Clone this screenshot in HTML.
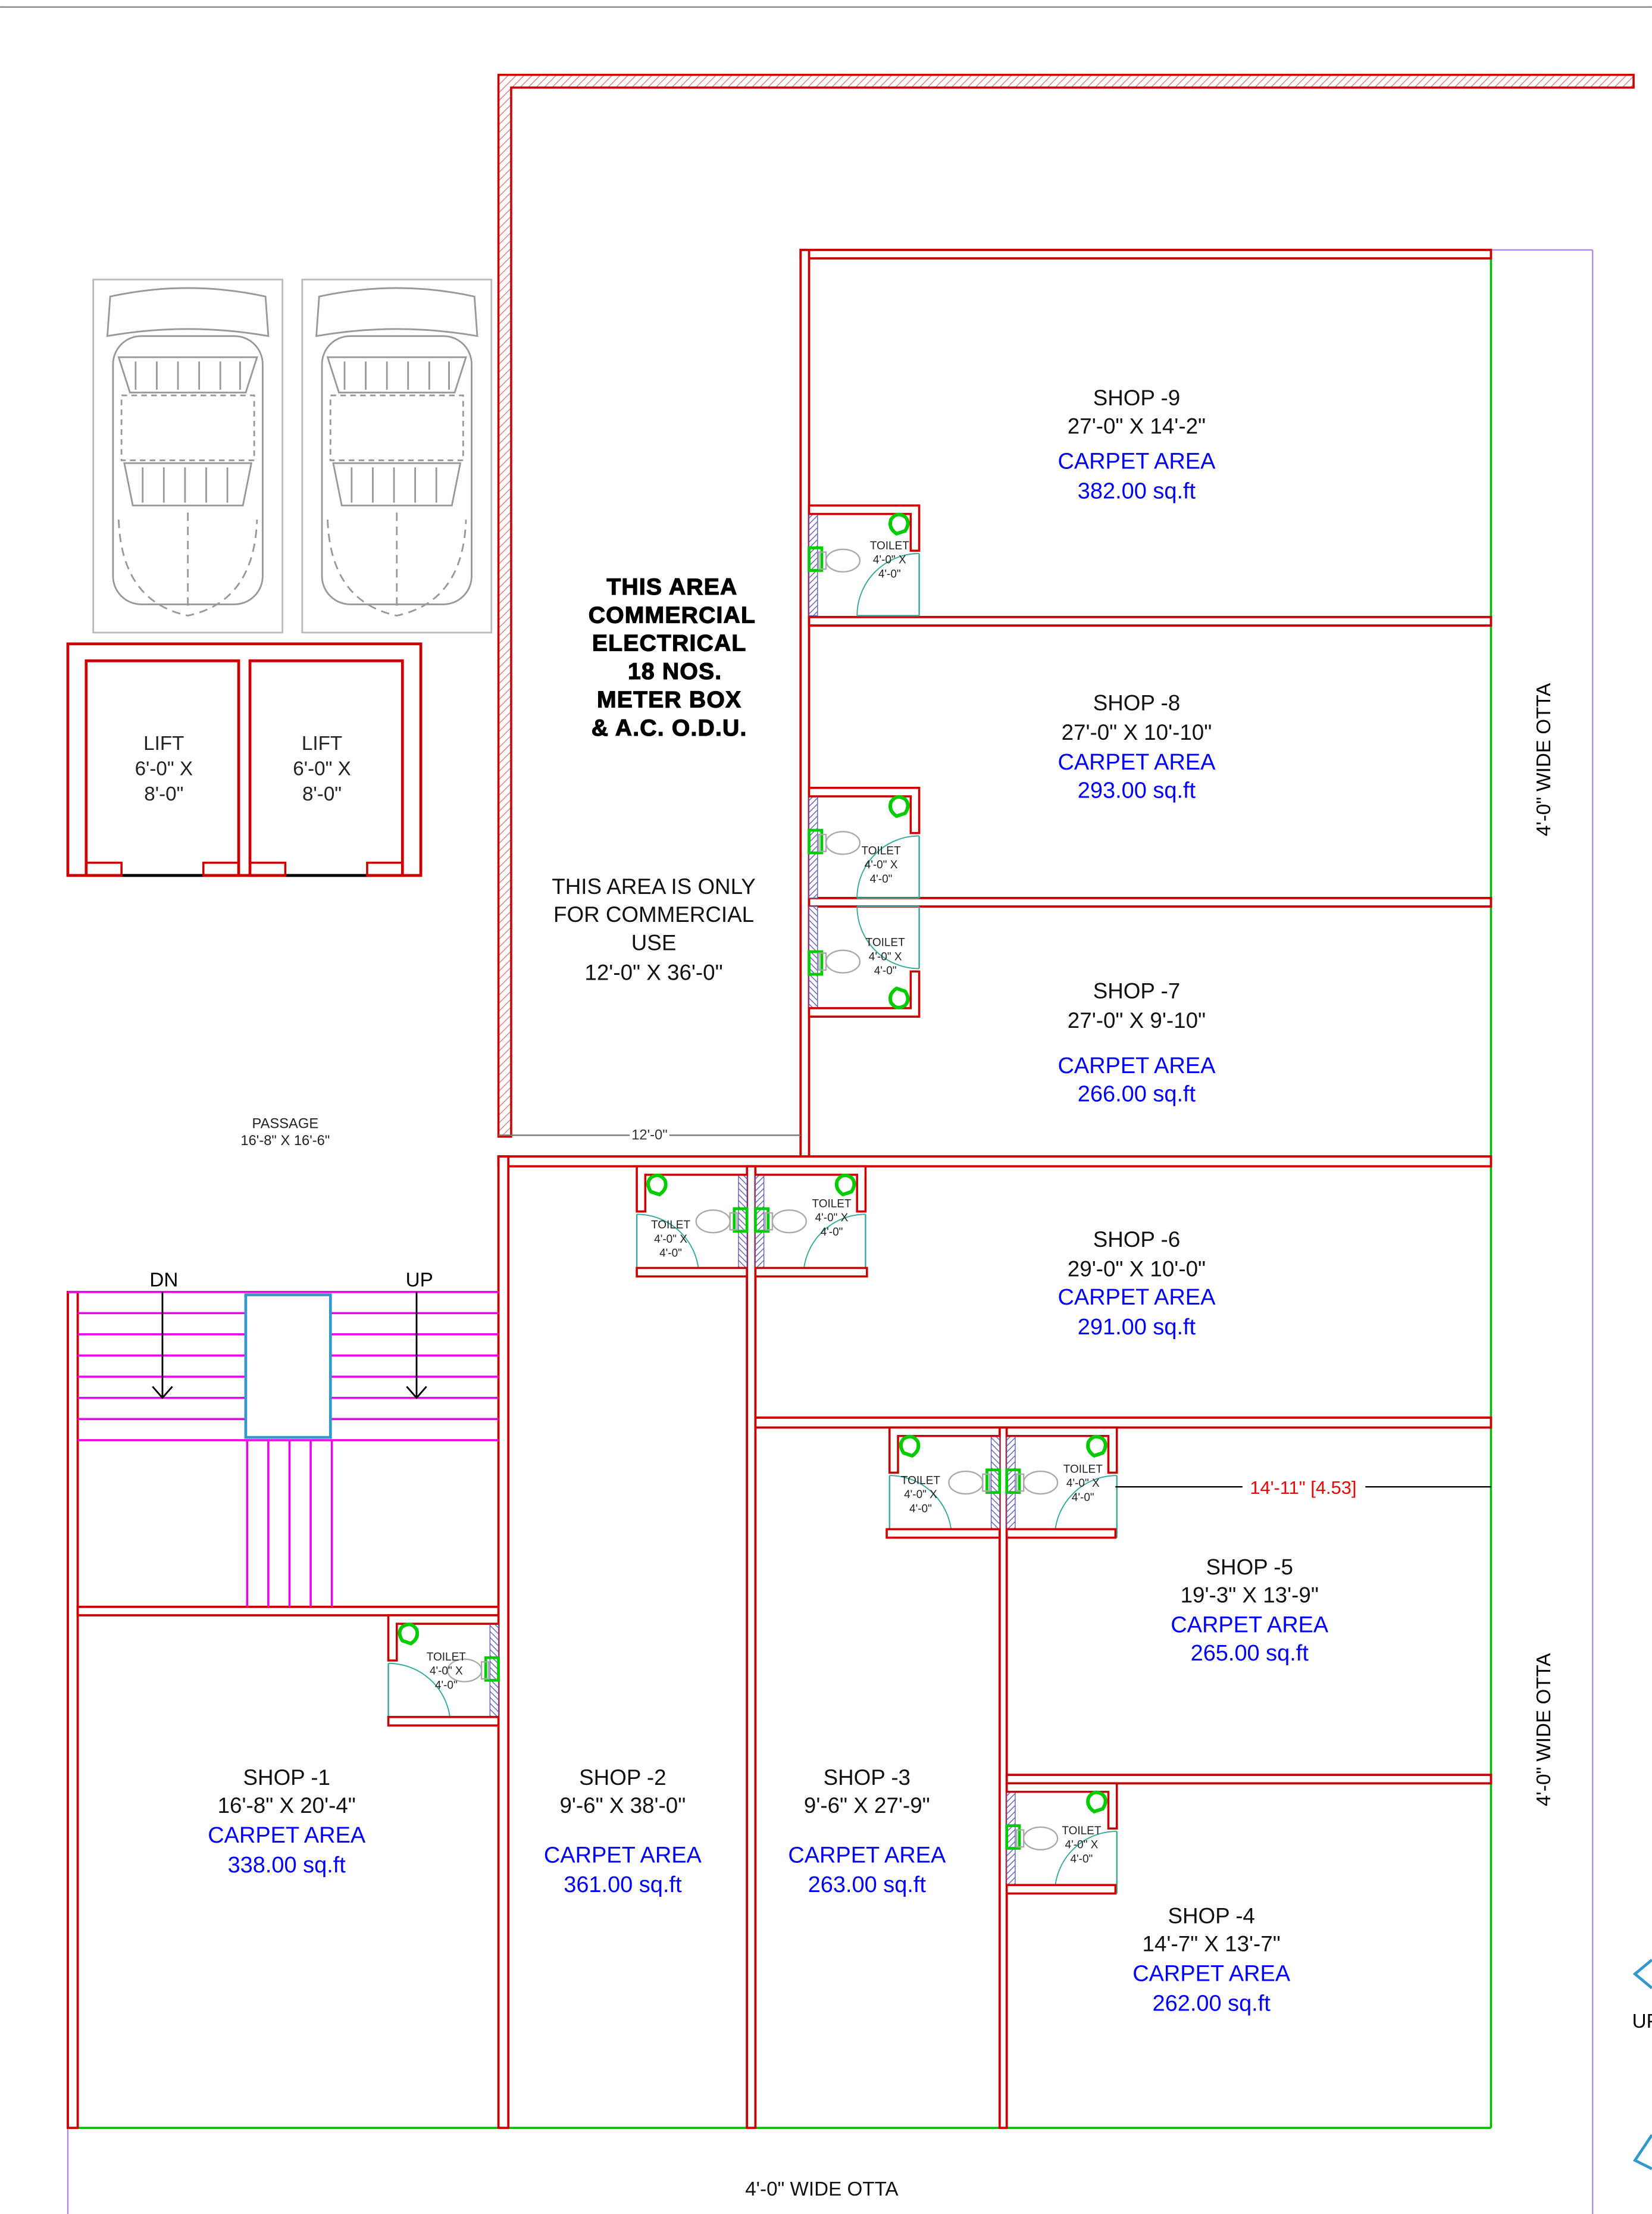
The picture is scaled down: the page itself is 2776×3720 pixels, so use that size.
<!DOCTYPE html>
<html><head><meta charset="utf-8"><style>
html,body{margin:0;padding:0;background:#fff;}
svg{display:block;}
text{font-family:"Liberation Sans",sans-serif;}
</style></head><body>
<svg width="2776" height="3720" viewBox="0 0 1170 1568" xmlns="http://www.w3.org/2000/svg">
<defs>
<pattern id="h" width="4" height="4" patternUnits="userSpaceOnUse" patternTransform="rotate(45)">
<rect width="4" height="4" fill="#fff"/><line x1="0" y1="0" x2="0" y2="4" stroke="#d66" stroke-width="1"/></pattern>
<pattern id="hb" width="3" height="3" patternUnits="userSpaceOnUse" patternTransform="rotate(45)">
<rect width="3" height="3" fill="#fff"/><line x1="0" y1="0" x2="0" y2="3" stroke="#6060c0" stroke-width="1.2"/></pattern>
<g id="t">
<rect x="0" y="0" width="6" height="78" fill="url(#hb)" stroke="#6060c0" stroke-width="0.6"/>
<path d="M0 0H78V32H72V6H0Z" fill="#fff" stroke="#c00" stroke-width="1.5"/>
<path d="M58 10 q4 -6 10 -2 q4 4 0 10 l-6 2 q-6 -4 -4 -10z" fill="none" stroke="#0c0" stroke-width="2.5"/>
<rect x="0" y="30" width="9" height="16" fill="none" stroke="#0c0" stroke-width="2"/>
<ellipse cx="24" cy="39" rx="12" ry="8" fill="none" stroke="#aaa" stroke-width="1"/>
<rect x="7" y="33" width="5" height="12" fill="none" stroke="#aaa" stroke-width="1"/>
<path d="M34 78 A44 44 0 0 1 78 34" fill="none" stroke="#3a9" stroke-width="0.8"/>
<line x1="78" y1="34" x2="78" y2="78" stroke="#3a9" stroke-width="1"/>
<line x1="34" y1="78" x2="78" y2="78" stroke="#3a9" stroke-width="1"/>
</g>
<g id="car" fill="none" stroke="#999" stroke-width="1.2">
<rect x="0" y="0" width="134" height="250" fill="none" stroke="#bbb"/>
<path d="M12 12 Q67 0 122 12 L124 40 Q67 30 10 40Z"/>
<rect x="14" y="40" width="106" height="190" rx="20"/>
<path d="M18 55 L116 55 L108 80 L26 80Z"/>
<path d="M22 130 L112 130 L106 160 L28 160Z"/>
<line x1="30" y1="58" x2="30" y2="78"/><line x1="45" y1="58" x2="45" y2="78"/><line x1="60" y1="58" x2="60" y2="78"/><line x1="75" y1="58" x2="75" y2="78"/><line x1="90" y1="58" x2="90" y2="78"/><line x1="104" y1="58" x2="104" y2="78"/>
<line x1="35" y1="133" x2="35" y2="158"/><line x1="50" y1="133" x2="50" y2="158"/><line x1="65" y1="133" x2="65" y2="158"/><line x1="80" y1="133" x2="80" y2="158"/><line x1="95" y1="133" x2="95" y2="158"/>
<rect x="20" y="82" width="94" height="46" stroke-dasharray="4 3"/>
<line x1="67" y1="165" x2="67" y2="235" stroke-dasharray="6 4"/>
<path d="M18 170 Q20 228 67 238 Q114 228 116 170" stroke-dasharray="6 4"/>
</g>
</defs>
<rect width="1170" height="1568" fill="#fff"/>
<line x1="0" y1="5" x2="1170" y2="5" stroke="#888" stroke-width="1"/>

<path d="M353 53H1157V62H362V805H353Z" fill="url(#h)" stroke="#c00" stroke-width="1.5"/>

<use href="#car" x="66" y="198"/>
<use href="#car" x="214" y="198"/>

<rect x="48" y="456" width="250" height="164" fill="none" stroke="#c00" stroke-width="2"/>
<rect x="61" y="468" width="108" height="152" fill="none" stroke="#c00" stroke-width="2"/>
<rect x="177" y="468" width="108" height="152" fill="none" stroke="#c00" stroke-width="2"/>
<line x1="86" y1="620" x2="144" y2="620" stroke="#000" stroke-width="2"/>
<line x1="202" y1="620" x2="260" y2="620" stroke="#000" stroke-width="2"/>
<rect x="61" y="611" width="25" height="9" fill="none" stroke="#c00" stroke-width="1.5"/>
<rect x="144" y="611" width="25" height="9" fill="none" stroke="#c00" stroke-width="1.5"/>
<rect x="177" y="611" width="25" height="9" fill="none" stroke="#c00" stroke-width="1.5"/>
<rect x="260" y="611" width="25" height="9" fill="none" stroke="#c00" stroke-width="1.5"/>
<g font-size="14" text-anchor="middle" fill="#222">
<text x="116" y="531">LIFT</text><text x="116" y="549">6'-0" X</text><text x="116" y="567">8'-0"</text>
<text x="228" y="531">LIFT</text><text x="228" y="549">6'-0" X</text><text x="228" y="567">8'-0"</text>
</g>

<line x1="1056" y1="177" x2="1128" y2="177" stroke="#a8f" stroke-width="1"/>
<line x1="1128" y1="177" x2="1128" y2="1568" stroke="#a8f" stroke-width="1"/>
<line x1="48" y1="1507" x2="48" y2="1568" stroke="#a8f" stroke-width="1"/>
<line x1="1056" y1="183" x2="1056" y2="1507" stroke="#0b0" stroke-width="1.5"/>
<line x1="48" y1="1507" x2="1056" y2="1507" stroke="#0b0" stroke-width="1.5"/>

<g fill="#fff" stroke="#c00" stroke-width="1.6">
<rect x="567" y="177" width="489" height="6"/>
<rect x="567" y="177" width="6" height="643"/>
<rect x="573" y="437" width="483" height="6"/>
<rect x="573" y="636" width="483" height="6"/>
<rect x="353" y="819" width="703" height="7"/>
<rect x="353" y="819" width="7" height="688"/>
<rect x="48" y="915" width="7" height="592"/>
<rect x="55" y="1138" width="298" height="6"/>
<rect x="529" y="826" width="6" height="681"/>
<rect x="535" y="1004" width="521" height="7"/>
<rect x="708" y="1011" width="5" height="496"/>
<rect x="713" y="1257" width="343" height="6"/>
</g>

<g stroke="#e0e" stroke-width="1.5">
<line x1="48" y1="915" x2="353" y2="915"/>
<line x1="55" y1="930" x2="353" y2="930"/>
<line x1="55" y1="945" x2="353" y2="945"/>
<line x1="55" y1="960" x2="353" y2="960"/>
<line x1="55" y1="975" x2="353" y2="975"/>
<line x1="55" y1="990" x2="353" y2="990"/>
<line x1="55" y1="1005" x2="353" y2="1005"/>
<line x1="55" y1="1020" x2="353" y2="1020"/>
<line x1="175" y1="1020" x2="175" y2="1138"/>
<line x1="190" y1="1020" x2="190" y2="1138"/>
<line x1="205" y1="1020" x2="205" y2="1138"/>
<line x1="220" y1="1020" x2="220" y2="1138"/>
<line x1="235" y1="1020" x2="235" y2="1138"/>
</g>
<rect x="174" y="917" width="60" height="101" fill="#fff" stroke="#39c" stroke-width="2"/>
<g stroke="#000" stroke-width="1.2" fill="none">
<line x1="115" y1="915" x2="115" y2="990"/><path d="M108 982 L115 990 L122 982"/>
<line x1="295" y1="915" x2="295" y2="990"/><path d="M288 982 L295 990 L302 982"/>
</g>
<text x="116" y="911" font-size="14" text-anchor="middle">DN</text>
<text x="297" y="911" font-size="14" text-anchor="middle">UP</text>

<!-- toilets -->
<use href="#t" transform="translate(573,358)"/>
<use href="#t" transform="translate(573,558)"/>
<use href="#t" transform="translate(573,720) scale(1,-1)"/>
<use href="#t" transform="translate(529,826) scale(-1,1)"/>
<use href="#t" transform="translate(535,826)"/>
<use href="#t" transform="translate(708,1011) scale(-1,1)"/>
<use href="#t" transform="translate(713,1011)"/>
<use href="#t" transform="translate(353,1144) scale(-1,1)"/>
<use href="#t" transform="translate(713,1263)"/>
<g fill="#fff" stroke="#c00" stroke-width="1.5">
<rect x="451" y="898" width="78" height="6"/>
<rect x="535" y="898" width="79" height="6"/>
<rect x="628" y="1083" width="80" height="6"/>
<rect x="713" y="1083" width="77" height="6"/>
<rect x="275" y="1216" width="78" height="6"/>
<rect x="713" y="1335" width="77" height="6"/>
</g>
<g font-size="8" text-anchor="middle" fill="#222">
<text x="630" y="389">TOILET</text><text x="630" y="399">4'-0" X</text><text x="630" y="409">4'-0"</text>
<text x="624" y="605">TOILET</text><text x="624" y="615">4'-0" X</text><text x="624" y="625">4'-0"</text>
<text x="627" y="670">TOILET</text><text x="627" y="680">4'-0" X</text><text x="627" y="690">4'-0"</text>
<text x="475" y="870">TOILET</text><text x="475" y="880">4'-0" X</text><text x="475" y="890">4'-0"</text>
<text x="589" y="855">TOILET</text><text x="589" y="865">4'-0" X</text><text x="589" y="875">4'-0"</text>
<text x="652" y="1051">TOILET</text><text x="652" y="1061">4'-0" X</text><text x="652" y="1071">4'-0"</text>
<text x="767" y="1043">TOILET</text><text x="767" y="1053">4'-0" X</text><text x="767" y="1063">4'-0"</text>
<text x="316" y="1176">TOILET</text><text x="316" y="1186">4'-0" X</text><text x="316" y="1196">4'-0"</text>
<text x="766" y="1299">TOILET</text><text x="766" y="1309">4'-0" X</text><text x="766" y="1319">4'-0"</text>
</g>

<line x1="353" y1="804" x2="567" y2="804" stroke="#777" stroke-width="1"/>
<rect x="446" y="798" width="28" height="10" fill="#fff"/>
<text x="460" y="807" font-size="10" text-anchor="middle" fill="#333">12'-0"</text>
<line x1="790" y1="1053" x2="880" y2="1053" stroke="#000" stroke-width="1"/>
<line x1="967" y1="1053" x2="1056" y2="1053" stroke="#000" stroke-width="1"/>
<text x="923" y="1058" font-size="13" text-anchor="middle" fill="#e00">14'-11" [4.53]</text>

<g font-size="15.5" text-anchor="middle" fill="#111">
<text x="805" y="287">SHOP -9</text><text x="805" y="307">27'-0" X 14'-2"</text>
<text x="805" y="503">SHOP -8</text><text x="805" y="524">27'-0" X 10'-10"</text>
<text x="805" y="707">SHOP -7</text><text x="805" y="728">27'-0" X 9'-10"</text>
<text x="805" y="883">SHOP -6</text><text x="805" y="904">29'-0" X 10'-0"</text>
<text x="885" y="1115">SHOP -5</text><text x="885" y="1135">19'-3" X 13'-9"</text>
<text x="858" y="1362">SHOP -4</text><text x="858" y="1382">14'-7" X 13'-7"</text>
<text x="203" y="1264">SHOP -1</text><text x="203" y="1284">16'-8" X 20'-4"</text>
<text x="441" y="1264">SHOP -2</text><text x="441" y="1284">9'-6" X 38'-0"</text>
<text x="614" y="1264">SHOP -3</text><text x="614" y="1284">9'-6" X 27'-9"</text>
<text x="463" y="633">THIS AREA IS ONLY</text><text x="463" y="653">FOR COMMERCIAL</text><text x="463" y="673">USE</text><text x="463" y="694">12'-0" X 36'-0"</text>
<text x="582" y="1555" font-size="14">4'-0" WIDE OTTA</text>
</g>
<g font-size="16" text-anchor="middle" fill="#00f">
<text x="805" y="332">CARPET AREA</text><text x="805" y="353">382.00 sq.ft</text>
<text x="805" y="545">CARPET AREA</text><text x="805" y="565">293.00 sq.ft</text>
<text x="805" y="760">CARPET AREA</text><text x="805" y="780">266.00 sq.ft</text>
<text x="805" y="924">CARPET AREA</text><text x="805" y="945">291.00 sq.ft</text>
<text x="885" y="1156">CARPET AREA</text><text x="885" y="1176">265.00 sq.ft</text>
<text x="858" y="1403">CARPET AREA</text><text x="858" y="1424">262.00 sq.ft</text>
<text x="203" y="1305">CARPET AREA</text><text x="203" y="1326">338.00 sq.ft</text>
<text x="441" y="1319">CARPET AREA</text><text x="441" y="1340">361.00 sq.ft</text>
<text x="614" y="1319">CARPET AREA</text><text x="614" y="1340">263.00 sq.ft</text>
</g>
<g font-size="16.5" font-weight="bold" text-anchor="middle" fill="#000" stroke="#000" stroke-width="0.5" letter-spacing="0.5">
<text x="476" y="421">THIS AREA</text><text x="476" y="441">COMMERCIAL</text><text x="474" y="461">ELECTRICAL</text>
<text x="478" y="481">18 NOS.</text><text x="474" y="501">METER BOX</text><text x="474" y="521">&amp; A.C. O.D.U.</text>
</g>
<text x="202" y="799" font-size="10" text-anchor="middle" fill="#222">PASSAGE</text>
<text x="202" y="811" font-size="10" text-anchor="middle" fill="#222">16'-8" X 16'-6"</text>
<text transform="translate(1098,538) rotate(-90)" font-size="14" text-anchor="middle">4'-0" WIDE OTTA</text>
<text transform="translate(1098,1225) rotate(-90)" font-size="14" text-anchor="middle">4'-0" WIDE OTTA</text>
<path d="M1170 1388 L1158 1398 L1170 1408" fill="none" stroke="#39c" stroke-width="2"/>
<text x="1156" y="1436" font-size="14">UP</text>
<path d="M1170 1512 L1158 1530 L1170 1536" fill="none" stroke="#39c" stroke-width="2"/>
</svg>
</body></html>
